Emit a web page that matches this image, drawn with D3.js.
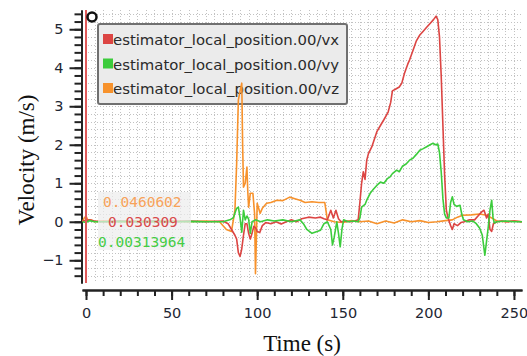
<!DOCTYPE html>
<html>
<head>
<meta charset="utf-8">
<script src="https://cdn.jsdelivr.net/npm/d3@7"></script>
<style>
  body { margin: 0; background: #fff; }
  svg { display: block; }
</style>
</head>
<body>
<div id="chart"></div>
<script>
// series data, time in seconds, velocity in m/s
const vxTime = [-2,0,2,5,10,20,30,40,50,60,70,80,83,85,87,88,89,90,91,92,93,94,95,96,97,98,99,100,101.5,103,105,108,111,114,117,120,123,126,130,134,137,139,141,143,144.5,146,147.5,149,152,155,157,159,160,161,162,163,164,165,167,170,172,174,176.5,178,179,181,183,184.5,186,188,189,191,193,195,197,199,201,203,204.5,205.5,206.5,207.5,208.5,209.5,210.5,211.5,213,214,215,217,219,221,224,227,229,231,232.5,234,235,236,237,238,240,243,246,250,255];
const vxValues = [0.02,0.03,0.05,0.02,0,0.02,0,0.02,0,0.02,0,0.02,-0.05,-0.2,-0.35,-0.45,-0.8,-0.9,-0.7,-0.35,-0.05,-0.05,-0.3,-0.45,-0.3,-0.12,-0.15,-0.25,-0.28,-0.1,-0.02,-0.05,0,-0.06,0,0.05,0,0.08,0.12,0.1,0.12,0.08,0.05,0.3,0.1,0.3,0.08,0,0.02,0,0.02,0.05,0.5,1.0,1.3,1.1,1.6,1.77,1.95,2.35,2.5,2.65,2.85,3.1,3.4,3.45,3.5,3.6,3.85,4.1,4.2,4.45,4.7,4.85,4.95,5.05,5.15,5.25,5.34,5.25,4.8,3.8,2.5,1.2,0.3,0.1,-0.1,-0.2,-0.05,-0.1,-0.02,0,0.05,0.05,0.15,0.25,0.3,0.1,0.2,-0.2,-0.25,-0.05,0,0.02,0,0.02,0];

const vyTime = [-2,0,2,5,10,20,30,40,50,60,70,80,84,86,88,89,90,91,92,93,94,95,96,97,99,102,106,110,115,120,125,127,129,132,135,137,139,141,143,144,145,146.5,147.5,148.5,149.5,150.5,153,156,159,160,161,163,164,166,168,170,172,174,176,177.5,179,181.5,183,185,187,189,191,193,195,197,199,201,202.7,204,205.5,206.5,207.5,208.5,209.5,210.5,212,213,214,215,216.5,218.5,219.5,220.5,223,226,228,230,231.5,233,234,235,236,237,237.8,238.5,240,245,250,255];
const vyValues = [0,-0.02,0.03,0,0,0.01,0,0.01,0,0.01,0,0,0.05,0.1,0.35,0.38,0.1,-0.27,0.3,0.05,0.15,0.07,-0.3,0,0.05,0,0.05,0.02,0.05,0,0.05,-0.05,-0.2,-0.3,-0.25,-0.22,-0.05,0,-0.2,-0.6,-0.4,0,-0.3,-0.65,-0.2,0.05,0,0.02,0,0.1,0.38,0.45,0.56,0.74,0.85,0.95,1.03,1.0,1.12,1.16,1.25,1.34,1.3,1.45,1.5,1.6,1.65,1.75,1.86,1.9,1.95,2.0,2.04,2.0,2.02,1.8,1.3,0.6,0.2,0.1,0.1,0.5,0.65,0.45,0.4,0.43,0.2,0.05,0,0.02,-0.05,-0.17,-0.35,-0.87,-0.5,-0.13,0.3,0.56,0.1,-0.03,0,0.02,0,0];

const vzTime = [-2,-1,0,1,3,5,10,20,30,40,50,60,70,78,82,85,87,88,89,90,91,91.5,92,93,94,94.5,95,96,97.5,98.5,99,99.5,100,101.7,103,105.5,108,111.5,115,119,122,125,128,132,136,139.5,141,145,150,155,160,165,170,175,180,185,190,195,200,205,210,214,217,220,225,230,234,237,240,245,250,255];
const vzValues = [0,0.1,0.15,0.05,0.05,0,0.02,0,0.02,0,0.02,0,0.02,0,-0.2,-0.25,0.3,1.5,3.16,3.4,3.6,2.0,0.9,1.0,1.42,0.8,0.38,0.74,0.74,0.2,-1.35,-0.5,0.48,0.22,0.35,0.48,0.5,0.56,0.55,0.64,0.6,0.56,0.5,0.52,0.5,0.5,0.05,0,-0.02,0.03,0,0.02,-0.05,0.02,-0.03,0.05,0,0.03,-0.02,0,0.03,0.05,0.12,0.17,0.18,0.2,0.17,0.1,0.02,0,0.02,0];

const seriesNames = ["estimator_local_position.00/vx", "estimator_local_position.00/vy", "estimator_local_position.00/vz"];
const seriesColors = ["#dc4543", "#3ccc3c", "#f7922c"];
const cursorValues = ["0.0460602", "0.030309", "0.00313964"];
const cursorColors = ["#f7a25a", "#d9494a", "#44cc44"];

const xTicks = [0, 50, 100, 150, 200, 250];
const yTicks = [-1, 0, 1, 2, 3, 4, 5];

const width = 527, height = 356;
const plot = { left: 82, right: 522, top: 10, bottom: 283 };

const svg = d3.select("#chart")
    .append("svg")
    .attr("width", width)
    .attr("height", height);

const x = d3.scaleLinear().domain([-2.34, 254.7]).range([plot.left, plot.right]);
const y = d3.scaleLinear().domain([-1.59, 5.5]).range([plot.bottom, plot.top]);

// grid (dotted)
const grid = svg.append("g").attr("stroke", "#c2c2c2").attr("stroke-dasharray", "1,2").attr("stroke-width", 1);
grid.selectAll("line.v")
    .data(d3.range(0, 255, 5))
    .enter().append("line")
    .attr("x1", d => Math.round(x(d)) + 0.5).attr("x2", d => Math.round(x(d)) + 0.5)
    .attr("y1", plot.top).attr("y2", plot.bottom);
grid.selectAll("line.h")
    .data(d3.range(-1.4, 5.5, 0.2))
    .enter().append("line")
    .attr("y1", d => Math.round(y(d)) + 0.5).attr("y2", d => Math.round(y(d)) + 0.5)
    .attr("x1", plot.left).attr("x2", plot.right);

// y axis
const yAxisG = svg.append("g").attr("transform", `translate(${plot.left - 0.5},0)`);
yAxisG.call(d3.axisLeft(y).tickValues(d3.range(-1.4, 5.5, 0.2)).tickSize(7).tickSizeOuter(0).tickFormat(""));
yAxisG.append("g").call(d3.axisLeft(y).tickValues(yTicks).tickSize(12).tickSizeOuter(0).tickPadding(6));
yAxisG.selectAll("path, line").attr("stroke", "#222").attr("stroke-width", 2);
yAxisG.selectAll("text").attr("font-family", "DejaVu Sans").attr("font-size", 14.5).attr("fill", "#1e2633");

// x axis
const xAxisG = svg.append("g").attr("transform", `translate(0,290)`);
xAxisG.call(d3.axisBottom(x).tickValues(d3.range(0, 255, 10)).tickSize(6).tickSizeOuter(0).tickFormat(""));
xAxisG.append("g").call(d3.axisBottom(x).tickValues(xTicks).tickSize(10).tickSizeOuter(0).tickPadding(8));
xAxisG.selectAll("path, line").attr("stroke", "#222").attr("stroke-width", 2);
xAxisG.selectAll("text").attr("font-family", "DejaVu Sans").attr("font-size", 14.5).attr("fill", "#1e2633");

// legend (drawn under the curves, as in the reference)
const legend = svg.append("g");
legend.append("rect")
    .attr("x", 98).attr("y", 24).attr("width", 249).attr("height", 80)
    .attr("rx", 2)
    .attr("fill", "#ebebeb").attr("stroke", "#707070").attr("stroke-width", 2);
seriesNames.forEach((name, i) => {
    legend.append("rect")
        .attr("x", 103).attr("y", 34 + i * 24.5)
        .attr("width", 10).attr("height", 10)
        .attr("fill", seriesColors[i]);
    legend.append("text")
        .attr("x", 113).attr("y", 45 + i * 24.5)
        .attr("font-family", "DejaVu Sans")
        .attr("font-size", 13.5)
        .attr("textLength", 226)
        .attr("lengthAdjust", "spacingAndGlyphs")
        .attr("fill", "#2a2a2a")
        .text(name);
});

// clip for lines
svg.append("clipPath").attr("id", "clip")
    .append("rect")
    .attr("x", plot.left).attr("y", plot.top)
    .attr("width", plot.right - plot.left).attr("height", plot.bottom - plot.top);

const line = d3.line().x(d => x(d[0])).y(d => y(d[1]));
const series = [
    d3.zip(vxTime, vxValues),
    d3.zip(vyTime, vyValues),
    d3.zip(vzTime, vzValues)
];
const linesG = svg.append("g").attr("clip-path", "url(#clip)");
[2, 0, 1].forEach(i => {
    linesG.append("path")
        .datum(series[i])
        .attr("d", line)
        .attr("fill", "none")
        .attr("stroke", seriesColors[i])
        .attr("stroke-width", 1.6)
        .attr("stroke-linejoin", "round");
});

// cursor line at t = 0
svg.append("line")
    .attr("x1", x(0)).attr("x2", x(0))
    .attr("y1", plot.top).attr("y2", plot.bottom)
    .attr("stroke", "#e05a5a").attr("stroke-width", 2);

// cursor value box
svg.append("rect")
    .attr("x", 98).attr("y", 192).attr("width", 93).attr("height", 58)
    .attr("fill", "#ececec").attr("opacity", 0.7);
svg.selectAll("text.cursor")
    .data(cursorValues)
    .enter().append("text")
    .attr("x", (d, i) => [103, 108, 98][i])
    .attr("y", (d, i) => 207 + i * 20)
    .attr("font-family", "DejaVu Sans Mono")
    .attr("font-size", 14.5)
    .attr("fill", (d, i) => cursorColors[i])
    .text(d => d);

// marker circle top-left
svg.append("circle")
    .attr("cx", 92).attr("cy", 17).attr("r", 4.5)
    .attr("fill", "#fff").attr("stroke", "#111").attr("stroke-width", 2.5);

// axis titles
svg.append("text")
    .attr("transform", "translate(34,160) rotate(-90)")
    .attr("text-anchor", "middle")
    .attr("font-family", "Liberation Serif")
    .attr("font-size", 23)
    .attr("fill", "#111")
    .text("Velocity (m/s)");
svg.append("text")
    .attr("x", 302).attr("y", 351)
    .attr("text-anchor", "middle")
    .attr("font-family", "Liberation Serif")
    .attr("font-size", 23)
    .attr("fill", "#111")
    .text("Time (s)");
</script>
</body>
</html>
